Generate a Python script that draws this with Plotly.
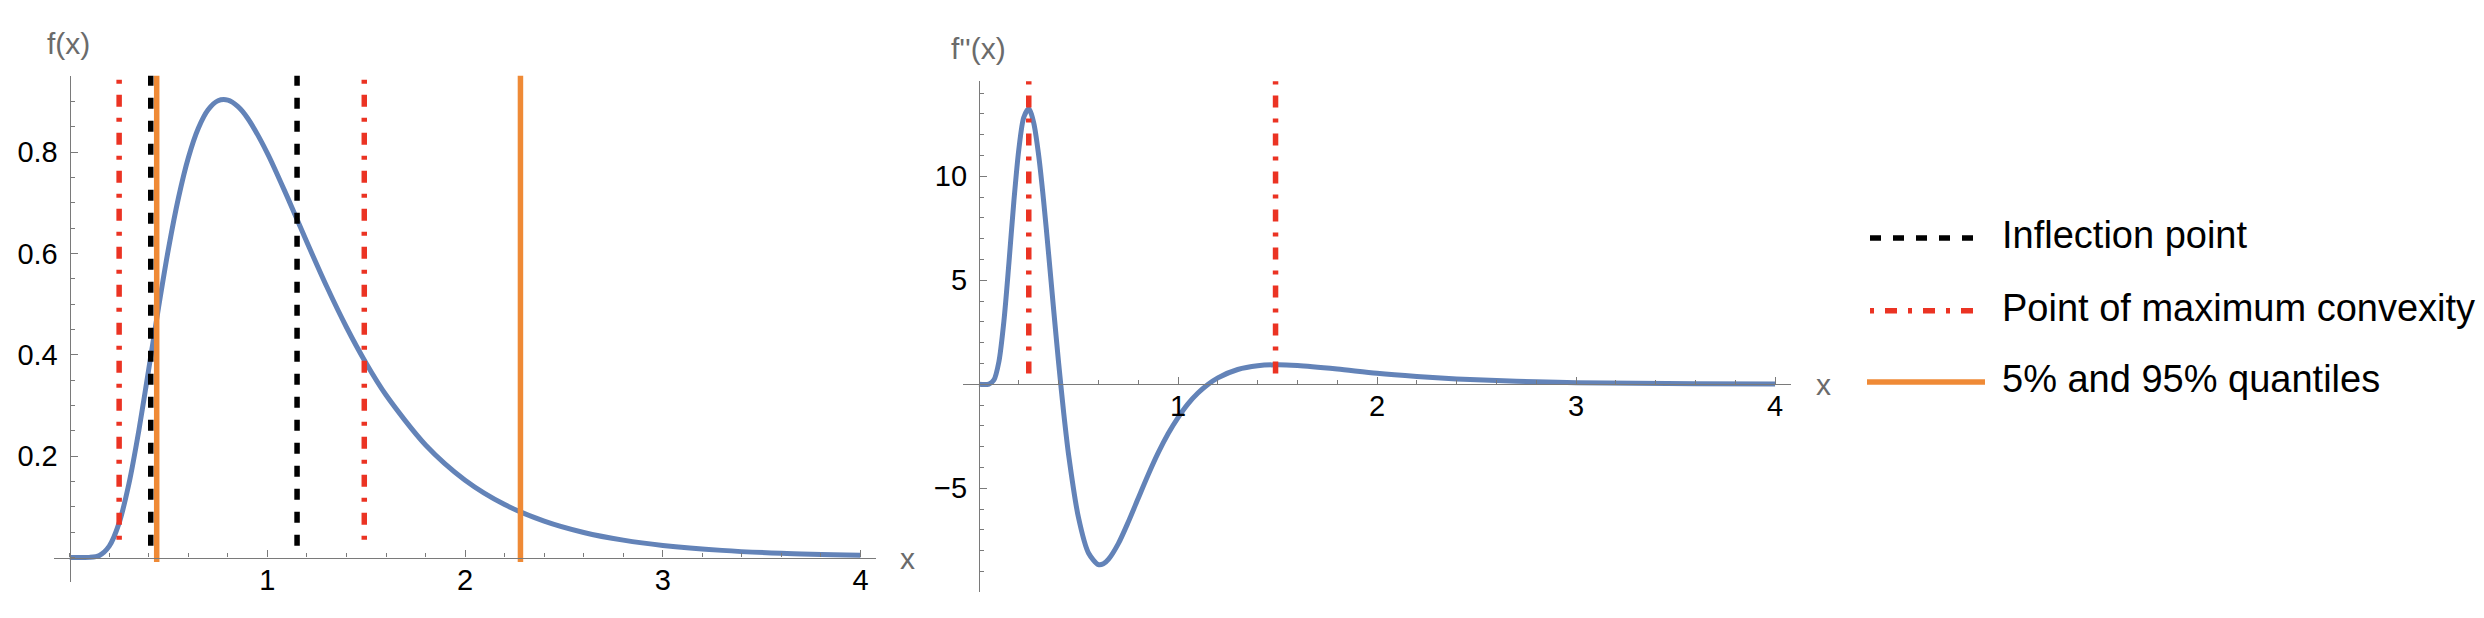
import plotly.graph_objects as go

# ---------------- data ----------------
x_f = [0, 0.05, 0.1, 0.15, 0.2, 0.25, 0.3, 0.35, 0.4, 0.45, 0.5, 0.55, 0.6, 0.65,
       0.7, 0.75, 0.8, 0.85, 0.9, 1.0, 1.1, 1.2, 1.3, 1.4, 1.5, 1.6, 1.8, 2.0,
       2.2, 2.4, 2.6, 2.8, 3.0, 3.3, 3.6, 4.0]
f_vals = [0.0, 0.0, 0.0002, 0.0040, 0.0224, 0.0683, 0.1465, 0.2515, 0.3721, 0.4953,
          0.6105, 0.7098, 0.7891, 0.8469, 0.8838, 0.9016, 0.9028, 0.8904, 0.8671,
          0.7979, 0.7123, 0.6221, 0.5348, 0.4545, 0.3829, 0.3206, 0.2221, 0.1526,
          0.1046, 0.0718, 0.0494, 0.0342, 0.0238, 0.0140, 0.0083, 0.0043]

x_d2 = [0, 0.05, 0.075, 0.1, 0.125, 0.15, 0.175, 0.2, 0.225, 0.25, 0.275, 0.3,
        0.325, 0.35, 0.375, 0.4, 0.425, 0.45, 0.5, 0.55, 0.6, 0.625, 0.65, 0.7,
        0.75, 0.8, 0.85, 0.9, 0.95, 1.0, 1.05, 1.1, 1.15, 1.2, 1.3, 1.4, 1.5, 1.6,
        1.8, 2.0, 2.2, 2.4, 2.6, 2.8, 3.0, 3.3, 3.6, 4.0]
d2_vals = [0.0, 0.01, 0.21, 1.09, 3.03, 5.80, 8.79, 11.29, 12.84, 13.25, 12.56, 10.98,
           8.78, 6.23, 3.58, 1.02, -1.33, -3.38, -6.42, -8.11, -8.67, -8.63, -8.42,
           -7.66, -6.62, -5.48, -4.35, -3.30, -2.38, -1.60, -0.94, -0.42, -0.01, 0.31,
           0.71, 0.89, 0.94, 0.90, 0.73, 0.53, 0.38, 0.26, 0.18, 0.12, 0.08, 0.045,
           0.026, 0.012]

inflection_x = [0.41, 1.15]
max_convexity_x = [0.25, 1.49]
quantile_x = [0.44, 2.28]

legend_labels = ["Inflection point", "Point of maximum convexity", "5% and 95% quantiles"]
x_ticks = [1, 2, 3, 4]
left_y_ticks = [0.2, 0.4, 0.6, 0.8]
right_y_ticks = [-5, 5, 10]

# ---------------- styling ----------------
W, H = 2484, 618
BLUE = "#6383B8"
RED = "#EB3323"
ORANGE = "#EF8A36"
BLACK = "#000000"
AXIS = "#7a7a7a"
LABEL_GRAY = "#6b6b6b"
FONT = "Liberation Sans, Arial, Helvetica, sans-serif"
BLACK_DASH = "11px,12px"
RED_DASH = "4px,11px,12px,11px"


def px(p):
    return p / W


def py(p):
    return 1 - p / H


fig = go.Figure()

# left panel: density
fig.add_trace(go.Scatter(x=x_f, y=f_vals, mode="lines", xaxis="x", yaxis="y",
                         line=dict(color=BLUE, width=5, shape="spline", smoothing=0.8),
                         showlegend=False, hoverinfo="skip"))
for v in inflection_x:
    fig.add_trace(go.Scatter(x=[v, v], y=[0.953, 0.0], mode="lines", xaxis="x", yaxis="y",
                             line=dict(color=BLACK, width=5.5, dash=BLACK_DASH),
                             showlegend=False, hoverinfo="skip"))
for v in max_convexity_x:
    fig.add_trace(go.Scatter(x=[v, v], y=[0.943, 0.015], mode="lines", xaxis="x", yaxis="y",
                             line=dict(color=RED, width=5.5, dash=RED_DASH),
                             showlegend=False, hoverinfo="skip"))
for v in quantile_x:
    fig.add_trace(go.Scatter(x=[v, v], y=[0.955, -0.009], mode="lines", xaxis="x", yaxis="y",
                             line=dict(color=ORANGE, width=5.5),
                             showlegend=False, hoverinfo="skip"))

# right panel: second derivative
fig.add_trace(go.Scatter(x=x_d2, y=d2_vals, mode="lines", xaxis="x2", yaxis="y2",
                         line=dict(color=BLUE, width=5, shape="spline", smoothing=0.8),
                         showlegend=False, hoverinfo="skip"))
for v in max_convexity_x:
    fig.add_trace(go.Scatter(x=[v, v], y=[14.6, 0.5], mode="lines", xaxis="x2", yaxis="y2",
                             line=dict(color=RED, width=5.5, dash=RED_DASH),
                             showlegend=False, hoverinfo="skip"))

common_axis = dict(showline=True, linecolor=AXIS, linewidth=1.3, ticks="inside",
                   ticklen=7, tickwidth=1.2, tickcolor=AXIS, showgrid=False,
                   zeroline=False, tickfont=dict(size=29, color="black", family=FONT))

fig.update_layout(
    width=W, height=H,
    margin=dict(l=0, r=0, t=0, b=0),
    paper_bgcolor="white", plot_bgcolor="white",
    showlegend=False,
    xaxis=dict(domain=[px(45.9), px(868.3)], range=[-0.08, 4.08], anchor="free",
               position=py(549.6), tickvals=x_ticks, ticklabelstandoff=-4,
               minor=dict(dtick=0.2, tick0=0, ticks="inside", ticklen=4,
                          tickcolor=AXIS, tickwidth=1, showgrid=False),
               **common_axis),
    yaxis=dict(domain=[py(574.3), py(67.7)], range=[-0.049, 0.951], anchor="free",
               position=px(61.7), tickvals=left_y_ticks, ticklabelstandoff=6,
               minor=dict(dtick=0.05, tick0=0, ticks="inside", ticklen=4,
                          tickcolor=AXIS, tickwidth=1, showgrid=False),
               **common_axis),
    xaxis2=dict(domain=[px(955.1), px(1783)], range=[-0.08, 4.08], anchor="free",
                position=py(376.3), tickvals=x_ticks, ticklabelstandoff=-4,
                minor=dict(dtick=0.2, tick0=0, ticks="inside", ticklen=4,
                           tickcolor=AXIS, tickwidth=1, showgrid=False),
                **common_axis),
    yaxis2=dict(domain=[py(584), py(73.3)], range=[-9.986, 14.567], anchor="free",
                position=px(971), tickvals=right_y_ticks, ticklabelstandoff=6,
                minor=dict(dtick=1, tick0=0, ticks="inside", ticklen=4,
                           tickcolor=AXIS, tickwidth=1, showgrid=False),
                **common_axis),
)

annotations = [
    dict(text="f(x)", x=px(60), y=py(36)),
    dict(text="f''(x)", x=px(970), y=py(40)),
    dict(text="x", x=px(899), y=py(550)),
    dict(text="x", x=px(1815), y=py(376)),
]
for a in annotations:
    a.update(xref="paper", yref="paper", xanchor="center", yanchor="middle",
             showarrow=False, font=dict(size=30, color=LABEL_GRAY, family=FONT))

# legend (drawn manually to match the long line samples)
legend_styles = [dict(color=BLACK, width=5.5, dash=BLACK_DASH),
                 dict(color=RED, width=5.5, dash=RED_DASH),
                 dict(color=ORANGE, width=5.5)]
row_y = [230, 302.7, 374]
sample_x = [(1862, 1970), (1862, 1970), (1859, 1977)]
shapes = []
for lab, st, ry, (sx0, sx1) in zip(legend_labels, legend_styles, row_y, sample_x):
    shapes.append(dict(type="line", xref="paper", yref="paper", x0=px(sx0), x1=px(sx1),
                       y0=py(ry), y1=py(ry), line=st))
    annotations.append(dict(text=lab, x=px(1992), y=py(ry - 3), xref="paper", yref="paper",
                            xanchor="left", yanchor="middle", showarrow=False,
                            font=dict(size=38, color="black", family=FONT)))

fig.update_layout(annotations=annotations, shapes=shapes)

fig.write_html("out.html")
